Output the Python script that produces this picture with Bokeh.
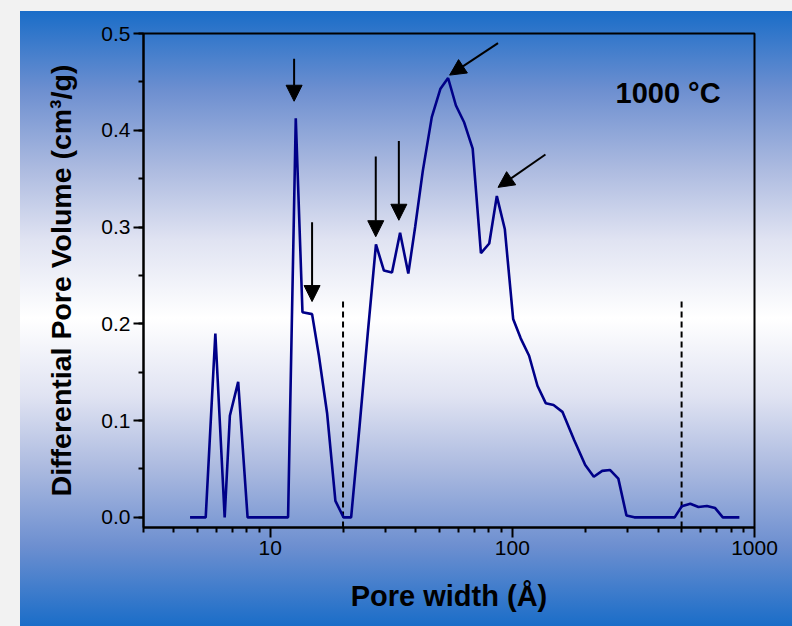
from bokeh.plotting import figure
from bokeh.models import (Arrow, NormalHead, FixedTicker, SingleIntervalTicker,
                          PrintfTickFormatter, Label, Range1d)
from bokeh.embed import file_html
from bokeh.resources import INLINE

# ---------------- data ----------------
pore_width = [4.67, 5.42, 5.94, 6.49, 6.82, 7.38, 8.07, 11.86, 12.76, 13.6,
              14.9, 15.9, 17.2, 18.6, 20.1, 21.6, 23.4, 25.3, 27.35, 29.5,
              31.85, 34.4, 37.2, 39.7, 42.7, 46.5, 50.5, 54.3, 58.5, 63.3,
              68.6, 74.2, 80.3, 86.3, 93.1, 100.8, 108.3, 117.3, 127.0, 137.4,
              148.0, 161.0, 180.0, 200.0, 217.0, 235.0, 253.0, 274.0, 296.0, 319.0,
              468.0, 501.0, 543.0, 587.0, 636.0, 688.0, 740.0, 866.0]
pore_volume = [0.0, 0.0, 0.190, 0.0, 0.105, 0.140, 0.0, 0.0, 0.4125, 0.212,
               0.210, 0.167, 0.107, 0.017, 0.0, 0.0, 0.094, 0.19, 0.282, 0.255,
               0.253, 0.294, 0.252, 0.30, 0.358, 0.4136, 0.443, 0.454, 0.4256, 0.408,
               0.381, 0.273, 0.283, 0.332, 0.298, 0.205, 0.185, 0.167, 0.136, 0.118,
               0.116, 0.109, 0.080, 0.054, 0.042, 0.048, 0.049, 0.040, 0.002, 0.0,
               0.0, 0.0114, 0.0141, 0.0107, 0.0117, 0.0096, 0.0, 0.0]

x_major_ticks = [10, 100, 1000]
x_minor_ticks = [m * d for d in (1, 10, 100) for m in range(2, 10)] + [3]
boundary_widths = [20, 500]
boundary_top = 0.225

# arrows: (x_start, y_start) -> (x_end, y_end)
arrow_x_start = [12.56, 14.9, 27.3, 34.0, 87.3, 137.0]
arrow_y_start = [0.474, 0.305, 0.373, 0.389, 0.490, 0.375]
arrow_x_end = [12.56, 14.9, 27.3, 34.0, 55.1, 87.3]
arrow_y_end = [0.430, 0.223, 0.290, 0.307, 0.457, 0.341]

annotation_text = "1000 \u00b0C"
x_label = "Pore width (\u00c5)"
y_label = "Differential Pore Volume (cm\u00b3/g)"

# ---------------- figure ----------------
FONT = "Liberation Sans"
p = figure(width=792, height=626, x_axis_type="log",
           x_range=Range1d(3, 1000), y_range=Range1d(-0.0105, 0.5),
           output_backend="svg", toolbar_location=None,
           min_border_left=143, min_border_right=38,
           min_border_top=33, min_border_bottom=99)
p.title.visible = False
p.background_fill_color = None
p.border_fill_color = None
p.outline_line_color = "black"
p.outline_line_width = 2
p.xgrid.visible = False
p.ygrid.visible = False

p.styles = {
    "background": (
        "linear-gradient(to right, #f2f2f2 0px, #f2f2f2 20px, transparent 20px),"
        "linear-gradient(to bottom, #f2f2f2 0px, #f2f2f2 11px, transparent 11px),"
        "linear-gradient(to bottom, #1a6dc8 11px, #6d8fd0 90px, #adbbe0 170px, "
        "#e0e3f2 240px, #ffffff 318px, #e0e3f2 396px, #adbbe0 466px, "
        "#6d8fd0 546px, #1a6dc8 626px)"
    )
}

# boundary dashed lines
p.segment(x0=boundary_widths, y0=[-0.0105] * len(boundary_widths),
          x1=boundary_widths, y1=[boundary_top] * len(boundary_widths),
          line_color="black", line_width=2, line_dash="6 4")

# curve
p.line(pore_width, pore_volume, line_color="#000088", line_width=2.6)

# arrows
for xs, ys, xe, ye in zip(arrow_x_start, arrow_y_start, arrow_x_end, arrow_y_end):
    p.add_layout(Arrow(x_start=xs, y_start=ys, x_end=xe, y_end=ye,
                       line_color="black", line_width=2,
                       end=NormalHead(size=16, fill_color="black",
                                      line_color="black", line_width=1)))

p.add_layout(Label(x=266.8, y=0.438, text=annotation_text,
                   text_font=FONT, text_font_size="29px",
                   text_font_style="bold", text_color="black",
                   text_baseline="alphabetic"))

# axes
xa = p.xaxis[0]
xa.ticker = FixedTicker(ticks=x_major_ticks, minor_ticks=x_minor_ticks)
xa.formatter = PrintfTickFormatter(format="%d")
ya = p.yaxis[0]
ya.ticker = SingleIntervalTicker(interval=0.1, num_minor_ticks=2)
ya.formatter = PrintfTickFormatter(format="%.1f")

for ax in (xa, ya):
    ax.axis_line_width = 2
    ax.axis_line_color = "black"
    ax.major_tick_line_width = 2
    ax.minor_tick_line_width = 2
    ax.major_tick_out = 10
    ax.major_tick_in = 0
    ax.minor_tick_out = 5
    ax.minor_tick_in = 0
    ax.major_label_text_font = FONT
    ax.major_label_text_font_size = "21px"
    ax.major_label_text_color = "black"
    ax.axis_label_text_font = FONT
    ax.axis_label_text_font_style = "bold"
    ax.axis_label_text_color = "black"

xa.axis_label_text_font_size = "29px"
ya.axis_label_text_font_size = "28.5px"
xa.axis_label = x_label
ya.axis_label = y_label
xa.major_label_standoff = 3
ya.major_label_standoff = 3
xa.axis_label_standoff = 22
ya.axis_label_standoff = 21

open("out.html", "w").write(file_html(p, INLINE))
